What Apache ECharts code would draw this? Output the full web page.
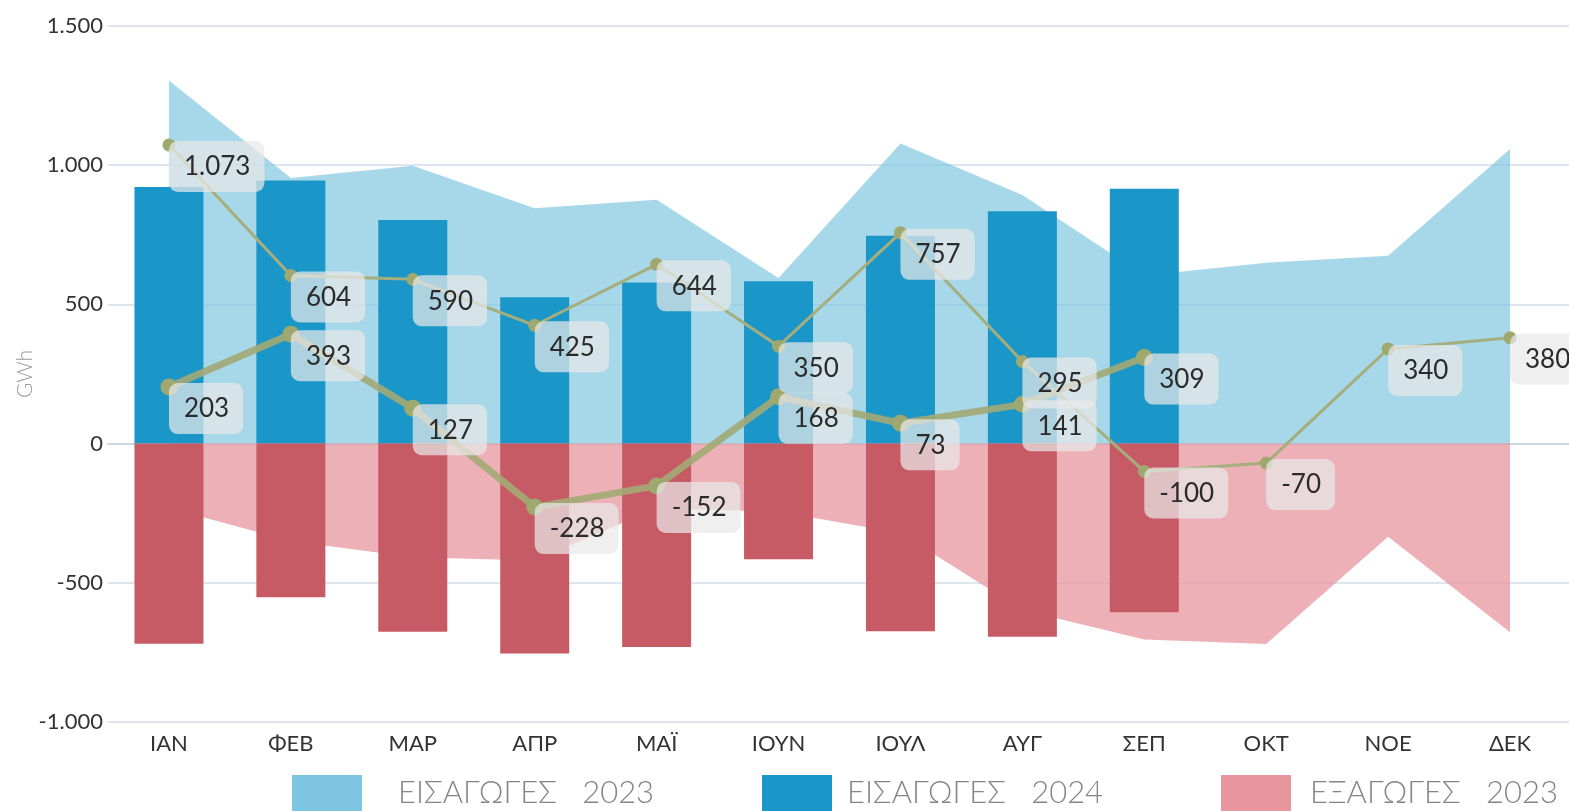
<!DOCTYPE html>
<html>
<head>
<meta charset="utf-8">
<title>Ισοζύγιο διασυνδέσεων</title>
<script src="https://cdn.jsdelivr.net/npm/echarts@6/dist/echarts.min.js"></script>
<style>
  html, body { margin: 0; padding: 0; background: #fff; }
  #chart { width: 1569px; height: 811px; }
</style>
</head>
<body>
<div id="chart"></div>
<script>
// Months (Greek abbreviations)
const months = ['ΙΑΝ', 'ΦΕΒ', 'ΜΑΡ', 'ΑΠΡ', 'ΜΑΪ', 'ΙΟΥΝ', 'ΙΟΥΛ', 'ΑΥΓ', 'ΣΕΠ', 'ΟΚΤ', 'ΝΟΕ', 'ΔΕΚ'];

// Monthly volumes in GWh
const imports2023 = [1304, 954, 998, 845, 876, 595, 1078, 893, 604, 650, 675, 1058];
const exports2023 = [-231, -350, -408, -420, -232, -245, -321, -598, -704, -720, -335, -678];
const imports2024 = [922, 945, 803, 526, 579, 583, 747, 835, 915];
const exports2024 = [-719, -552, -676, -754, -731, -415, -674, -694, -606];

// Net balance (imports minus exports)
const net2023 = [1073, 604, 590, 425, 644, 350, 757, 295, -100, -70, 340, 380];
const net2024 = [203, 393, 127, -228, -152, 168, 73, 141, 309];

// Y axis range
const yTicks = { min: -1000, max: 1500, interval: 500 };

const FONT = 'Lato, "Open Sans", "Noto Sans", sans-serif';

// Greek number format: dot as thousands separator
function fmt(v) {
  const n = Math.round(v);
  const s = Math.abs(n).toString().replace(/\B(?=(\d{3})+(?!\d))/g, '.');
  return (n < 0 ? '-' : '') + s;
}

const NAMES = {
  imp23: 'ΕΙΣΑΓΩΓΕΣ   2023',
  imp24: 'ΕΙΣΑΓΩΓΕΣ   2024',
  exp23: 'ΕΞΑΓΩΓΕΣ   2023',
  exp24: 'ΕΞΑΓΩΓΕΣ   2024',
  net23: 'ΚΑΘΑΡΕΣ ΕΙΣΑΓΩΓΕΣ   2023',
  net24: 'ΚΑΘΑΡΕΣ ΕΙΣΑΓΩΓΕΣ   2024'
};

const COLORS = {
  imp23: '#7dc5e0',
  imp24: '#1b96c8',
  exp23: '#e8959e',
  exp24: '#c75b65',
  net: '#a3ad76'
};

function valueLabel(symbolSize) {
  return {
    show: true,
    position: [symbolSize / 2, symbolSize / 2 - 4],
    formatter: p => fmt(p.value),
    fontFamily: FONT,
    fontSize: 26,
    fontWeight: 400,
    color: '#2b2b2b',
    backgroundColor: 'rgba(233,233,233,0.72)',
    borderRadius: 9,
    padding: [13, 14, 12, 15]
  };
}

function legendBlock(left, name, color, gap) {
  return {
    left: left,
    top: 775,
    padding: 0,
    orient: 'horizontal',
    icon: 'rect',
    itemWidth: 70,
    itemHeight: 36,
    selectedMode: false,
    data: [{ name: name, itemStyle: { color: color, opacity: 1 } }],
    textStyle: {
      fontFamily: FONT,
      fontSize: 31,
      fontWeight: 300,
      color: '#858585',
      padding: [0, 0, 0, gap]
    }
  };
}

const chart = echarts.init(document.getElementById('chart'), null, { renderer: 'canvas' });

chart.setOption({
  animation: false,
  backgroundColor: '#ffffff',
  grid: {
    left: 108,
    top: 26,
    width: 1463,
    bottom: 89,
    containLabel: false,
    outerBoundsMode: 'none'
  },
  legend: [
    legendBlock(292, NAMES.imp23, COLORS.imp23, 31),
    legendBlock(762, NAMES.imp24, COLORS.imp24, 10),
    legendBlock(1221, NAMES.exp23, COLORS.exp23, 14)
  ],
  xAxis: {
    type: 'category',
    data: months,
    boundaryGap: true,
    axisLine: { show: true, lineStyle: { color: '#c9d7e2', width: 2 } },
    axisTick: { show: false },
    axisLabel: {
      margin: 11,
      fontFamily: FONT,
      fontSize: 22,
      fontWeight: 400,
      color: '#333'
    },
    splitLine: { show: false }
  },
  yAxis: {
    type: 'value',
    min: yTicks.min,
    max: yTicks.max,
    interval: yTicks.interval,
    name: 'GWh',
    nameLocation: 'middle',
    nameGap: 72,
    nameMoveOverlap: false,
    nameRotate: 90,
    nameTextStyle: { fontFamily: FONT, fontSize: 21, fontWeight: 300, color: '#9a9a9a' },
    axisLine: { show: false },
    axisTick: { show: false },
    axisLabel: {
      margin: 5,
      fontFamily: FONT,
      fontSize: 22,
      fontWeight: 400,
      color: '#333',
      formatter: v => fmt(v)
    },
    splitLine: { show: true, lineStyle: { color: '#dde6ee', width: 2 } }
  },
  series: [
    {
      name: NAMES.imp23,
      type: 'line',
      data: imports2023,
      color: COLORS.imp23,
      symbol: 'none',
      lineStyle: { width: 0 },
      areaStyle: { color: COLORS.imp23, opacity: 0.68 },
      z: 1
    },
    {
      name: NAMES.exp23,
      type: 'line',
      data: exports2023,
      color: COLORS.exp23,
      symbol: 'none',
      lineStyle: { width: 0 },
      areaStyle: { color: COLORS.exp23, opacity: 0.74 },
      z: 1
    },
    {
      name: NAMES.imp24,
      type: 'bar',
      data: imports2024,
      color: COLORS.imp24,
      barWidth: 69,
      z: 2
    },
    {
      name: NAMES.exp24,
      type: 'bar',
      data: exports2024,
      color: COLORS.exp24,
      barWidth: 69,
      barGap: '-100%',
      z: 2
    },
    {
      name: NAMES.net23,
      type: 'line',
      data: net2023,
      color: COLORS.net,
      symbol: 'circle',
      symbolSize: 13,
      lineStyle: { width: 3, color: '#a5ae7c' },
      itemStyle: { color: '#9ea86f' },
      label: valueLabel(13),
      z: 3
    },
    {
      name: NAMES.net24,
      type: 'line',
      data: net2024,
      color: COLORS.net,
      symbol: 'circle',
      symbolSize: 17,
      lineStyle: { width: 7, color: '#a3aa74', opacity: 0.9 },
      itemStyle: { color: '#9ea86f' },
      label: valueLabel(17),
      z: 3
    }
  ]
});
</script>
</body>
</html>
